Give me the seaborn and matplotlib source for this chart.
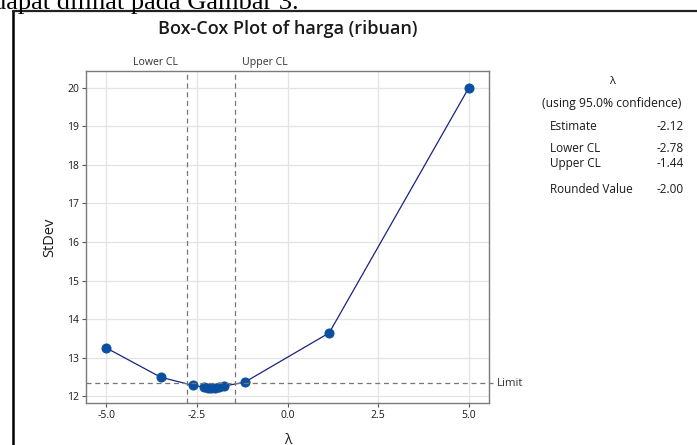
import matplotlib
matplotlib.use("Agg")
import matplotlib.pyplot as plt
import seaborn as sns
import pandas as pd
from matplotlib.lines import Line2D

# Data
lam = [-5.0, -3.5, -2.62, -2.3, -2.2, -2.12, -2.0, -1.9, -1.75, -1.18, 1.15, 5.0]
stdev = [13.25, 12.49, 12.28, 12.23, 12.22, 12.22, 12.22, 12.23, 12.26, 12.36, 13.64, 20.0]
lower_cl = -2.78
upper_cl = -1.44
limit = 12.33
xticks = [-5.0, -2.5, 0.0, 2.5, 5.0]
yticks = [12, 13, 14, 15, 16, 17, 18, 19, 20]
stats_labels = ["Estimate", "Lower CL", "Upper CL", "Rounded Value"]
stats_values = ["-2.12", "-2.78", "-1.44", "-2.00"]

sns.set_theme(style="whitegrid")
plt.rcParams['font.family'] = ['Open Sans', 'DejaVu Sans']

W, H = 697, 445
fig = plt.figure(figsize=(W / 100, H / 100), dpi=100)
fig.patch.set_facecolor("white")

def fx(px):
    return px / W

def fy(py):
    return 1 - py / H

TXT = "#1a1a1a"

ax = fig.add_axes([fx(86), fy(403), fx(489) - fx(86), fy(71) - fy(403)])
df = pd.DataFrame({"lam": lam, "stdev": stdev})
sns.lineplot(data=df, x="lam", y="stdev", ax=ax, sort=False, estimator=None,
             color="#1a237e", linewidth=0.9, marker="o", markersize=6.5,
             markerfacecolor="#0b4fa0", markeredgecolor="#0b4fa0")

ax.set_xlim(-5.56, 5.56)
ax.set_ylim(11.82, 20.44)
ax.set_xticks(xticks)
ax.set_xticklabels([f"{t:.1f}" for t in xticks])
ax.set_yticks(yticks)
ax.set_yticklabels([str(t) for t in yticks])
ax.tick_params(axis="both", labelsize=7.5, length=3, width=0.8, color="#555555",
               labelcolor=TXT, pad=2, bottom=True, left=True)
ax.grid(True, color="#e3e3e3", linewidth=0.9)
for s in ax.spines.values():
    s.set_color("#7a7a7a")
    s.set_linewidth(1.0)
ax.set_facecolor("white")

ax.axvline(lower_cl, color="#777777", linestyle=(0, (4, 3)), linewidth=0.9)
ax.axvline(upper_cl, color="#777777", linestyle=(0, (4, 3)), linewidth=0.9)
ax.axhline(limit, color="#777777", linestyle=(0, (4, 3)), linewidth=0.9)
ax.set_xlabel("λ", fontsize=10, color=TXT, labelpad=9)
ax.set_ylabel("StDev", fontsize=10.5, color=TXT, labelpad=7)

ax.text(lower_cl - 0.25, 20.52, "Lower CL", ha="right", va="bottom", fontsize=7.6, color="#333333")
ax.text(upper_cl + 0.18, 20.52, "Upper CL", ha="left", va="bottom", fontsize=7.6, color="#333333")

# Limit line extension and label (outside axes)
fig.add_artist(Line2D([fx(489), fx(493)], [fy(383.3), fy(383.3)], color="#777777",
                      linestyle=(0, (4, 3)), linewidth=0.9))
fig.text(fx(497), fy(383.3), "Limit", ha="left", va="center", fontsize=8.2, color="#333333")

fig.text(fx(288), fy(29), "Box-Cox Plot of harga (ribuan)", ha="center", va="center",
         fontsize=13, fontweight="semibold", color=TXT)

# Right panel
fig.text(fx(612), fy(81), "λ", ha="center", va="center", fontsize=8, color=TXT)
fig.text(fx(612), fy(104), "(using 95.0% confidence)", ha="center", va="center",
         fontsize=8.7, color=TXT)
ys = [126, 148, 164, 190]
for lab, val, yy in zip(stats_labels, stats_values, ys):
    fig.text(fx(550), fy(yy), lab, ha="left", va="center", fontsize=8.5, color=TXT)
    fig.text(fx(684), fy(yy), val, ha="right", va="center", fontsize=8.5, color=TXT)

# Document frame and text
fig.add_artist(Line2D([fx(13), fx(13)], [fy(11), fy(450)], color="black", linewidth=1.8))
fig.add_artist(Line2D([fx(13), fx(700)], [fy(11), fy(11)], color="#222222", linewidth=1.6))
fig.text(fx(-7), fy(9), "dapat dilihat pada Gambar 3.", ha="left", va="baseline",
         fontsize=19, family="Liberation Serif", color="black")

fig.savefig("out.png", dpi=100, facecolor="white")
